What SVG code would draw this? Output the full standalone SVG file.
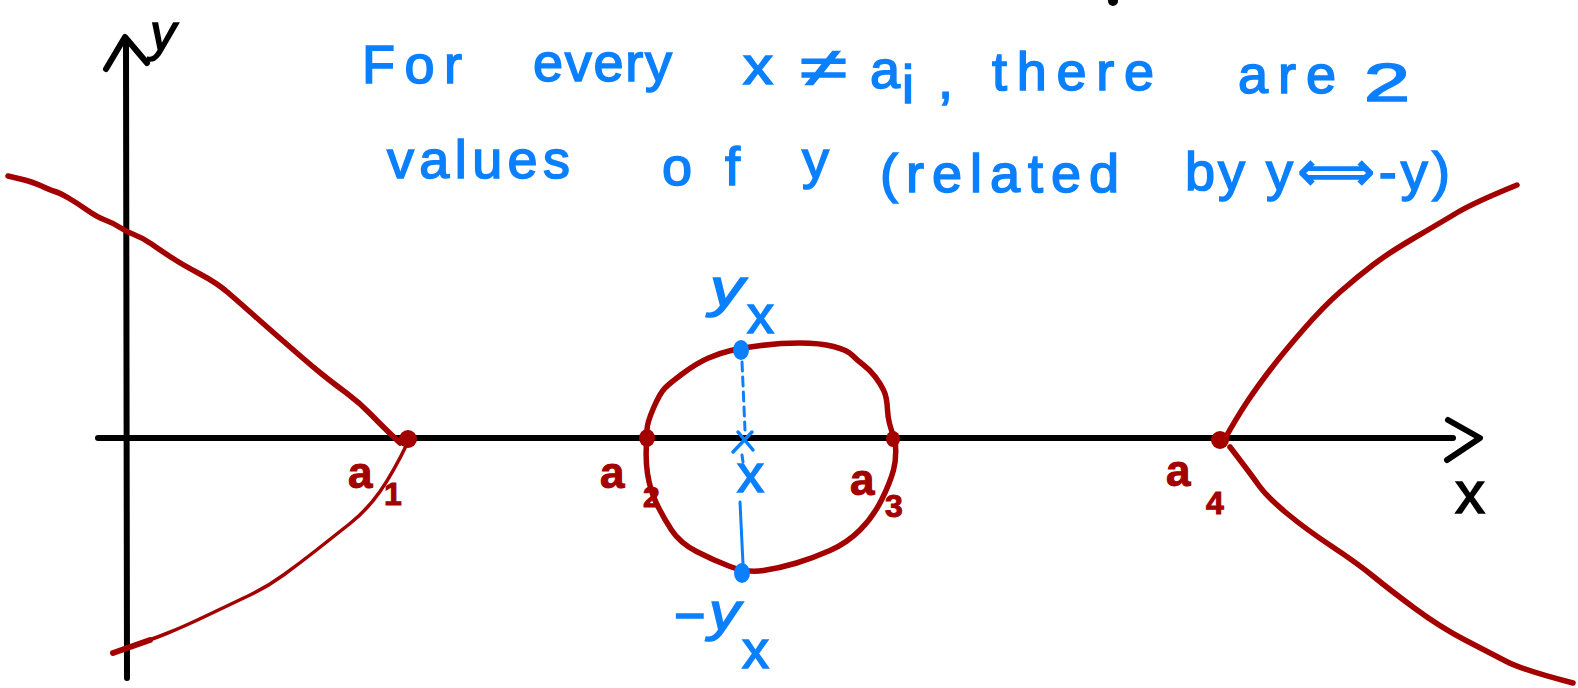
<svg xmlns="http://www.w3.org/2000/svg" width="1578" height="688" viewBox="0 0 1578 688">
<style>
.ax{stroke:#000;stroke-width:6;fill:none;stroke-linecap:round;stroke-linejoin:round}
.rc{stroke:#a30000;stroke-width:5.5;fill:none;stroke-linecap:round;stroke-linejoin:round}
.bl{stroke:#0b80ff;stroke-width:3;fill:none;stroke-linecap:round}
.bt{fill:#0b80ff;stroke:#0b80ff;stroke-width:1.6;font-family:"Liberation Sans","DejaVu Sans",sans-serif;font-size:54px}
.rt{fill:#a30000;stroke:#a30000;stroke-width:1;font-family:"Liberation Sans","DejaVu Sans",sans-serif;font-weight:bold}
.kt{fill:#000;stroke:#000;stroke-width:1.5;font-family:"Liberation Sans","DejaVu Sans",sans-serif}
</style>
<rect width="1578" height="688" fill="#fff"/>
<g id="axes">
  <path class="ax" d="M98,438 L1453,438"/>
  <path class="ax" d="M1448,420 L1480,438 L1447,460"/>
  <path class="ax" d="M127,678 L126,40"/>
  <path class="ax" d="M106,69 L125,37 L147,63"/>
  <text class="kt" x="1455" y="513" font-size="60">x</text>
  <text class="kt" x="150" y="50" font-size="52" font-style="italic">y</text>
  <ellipse cx="1113" cy="1" rx="5" ry="5" fill="#000"/>
</g>
<g id="curves">
  <path class="rc" d="M8,176 L20.5,179 Q33,182 41.5,186 Q50,190 55,191.5 Q60,193 68.5,198 Q77,203 87,210 Q97,217 105,220 Q113,223 120,227.5 Q127,232 135,235 Q143,238 151.5,244 Q160,250 171.5,257.5 Q183,265 200,274 Q217,283 228.5,293 Q240,303 253.5,315 Q267,327 278.5,337 Q290,347 301.5,357 Q313,367 323,375 Q333,383 346.5,393 Q360,403 371.5,415 Q383,427 400,443"/>
  <path class="rc" style="stroke-width:3.5" d="M408,442 Q393,473 380,491.5 Q367,510 350,523.5 Q333,537 316.5,550 Q300,563 283.5,575 Q267,587 250,595 Q233,603 208,615 Q183,627 166.5,633.5 Q150,640 113,653"/>
  <path class="rc" style="stroke-width:6" d="M150,640 L113,653"/>
  <path class="rc" d="M1223,442 Q1237,417 1247,402 Q1257,387 1270,370 Q1283,353 1303,330 Q1323,307 1340,292 Q1357,277 1373.5,264.5 Q1390,252 1415,237.5 Q1440,223 1456.5,213 Q1473,203 1517,185"/>
  <path class="rc" d="M1230,447 Q1250,473 1258.5,485 Q1267,497 1287,513.5 Q1307,530 1332,546.5 Q1357,563 1373.5,576.5 Q1390,590 1415,608.5 Q1440,627 1465,640 Q1490,653 1506.5,661.5 Q1523,670 1573,683"/>
  <path class="rc" d="M647,438 L647,430 Q647,423 653.5,408 Q660,393 665,388 Q670,383 683.5,373 Q697,363 708.5,358 Q720,353 731,350.5 Q742,348 761,345.5 Q780,343 800,343 Q820,343 833.5,346.5 Q847,350 852,355 Q857,360 863.5,365 Q870,370 875,376.5 Q880,383 883.5,390 Q887,397 887.5,410 Q888,423 895,440"/>
  <path class="rc" d="M895,440 Q897,457 893.5,470 Q890,483 881.5,500 Q873,517 860,530 Q847,543 830,550.5 Q813,558 796.5,563 Q780,568 763.5,570.5 Q747,573 730,566.5 Q713,560 696.5,551.5 Q680,543 671.5,530 Q663,517 656.5,503.5 Q650,490 647.5,473.5 Q645,457 647,438"/>
</g>
<g id="points">
  <ellipse cx="408" cy="439" rx="9" ry="9" fill="#a30000"/>
  <ellipse cx="647" cy="438" rx="8" ry="9" fill="#a30000"/>
  <ellipse cx="893" cy="439" rx="7" ry="8" fill="#a30000"/>
  <ellipse cx="1220" cy="440" rx="9" ry="9" fill="#a30000"/>
  <ellipse cx="741" cy="350" rx="8" ry="10" fill="#0b80ff"/>
  <ellipse cx="742" cy="573" rx="8" ry="10" fill="#0b80ff"/>
</g>
<g id="connectors">
  <path class="bl" style="stroke-dasharray:9 6" d="M742,362 L745,430"/>
  <path class="bl" d="M742,455 L743,462"/>
  <path class="bl" d="M740,502 L743,564"/>
  <path class="bl" style="stroke-width:3.5" d="M738,432 L753,450 M752,432 L733,452"/>
</g>
<g id="labels">
  <text class="rt" x="348" y="488" font-size="44">a</text>
  <text class="rt" x="384" y="505" font-size="32">1</text>
  <text class="rt" x="600" y="488" font-size="44">a</text>
  <text class="rt" x="643" y="507" font-size="30">2</text>
  <text class="rt" x="850" y="495" font-size="44">a</text>
  <text class="rt" x="885" y="517" font-size="32">3</text>
  <text class="rt" x="1166" y="486" font-size="44">a</text>
  <text class="rt" x="1206" y="514" font-size="32">4</text>
  <text class="bt" x="710" y="306" font-size="64" font-style="italic" textLength="34" lengthAdjust="spacingAndGlyphs">y</text>
  <text class="bt" x="747" y="333" font-size="26">x</text>
  <text class="bt" x="674" y="634" font-size="46">−</text>
  <text class="bt" x="709" y="630" font-size="56" font-style="italic" textLength="31" lengthAdjust="spacingAndGlyphs">y</text>
  <text class="bt" x="742" y="668" font-size="28">x</text>
  <text class="bt" x="737" y="492" font-size="54">x</text>
</g>
<g id="note">
  <text class="bt" x="362" y="83" textLength="100">For</text>
  <text class="bt" x="533" y="81" textLength="139">every</text>
  <text class="bt" x="743" y="84" textLength="30" lengthAdjust="spacingAndGlyphs">x</text>
  <text class="bt" x="800" y="86" font-size="60" textLength="47" lengthAdjust="spacingAndGlyphs">≠</text>
  <text class="bt" x="870" y="88">a</text>
  <text class="bt" x="902" y="103" font-size="34">i</text>
  <text class="bt" x="938" y="98">,</text>
  <text class="bt" x="992" y="90" textLength="162">there</text>
  <text class="bt" x="1238" y="93" textLength="98">are</text>
  <text class="bt" x="1364" y="101" font-size="62" textLength="46" lengthAdjust="spacingAndGlyphs">2</text>
  <text class="bt" x="387" y="178" textLength="183">values</text>
  <text class="bt" x="662" y="185" textLength="78">of</text>
  <text class="bt" x="802" y="178">y</text>
  <text class="bt" x="880" y="192" textLength="239">(related</text>
  <text class="bt" x="1185" y="190" textLength="60">by</text>
  <text class="bt" x="1266" y="190" textLength="184">y⟺-y)</text>
</g>
</svg>
